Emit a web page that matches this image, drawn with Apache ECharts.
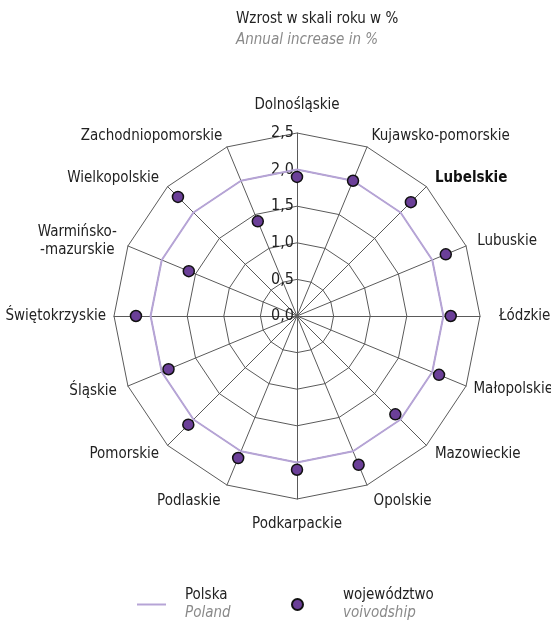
<!DOCTYPE html>
<html>
<head>
<meta charset="utf-8">
<script src="https://cdn.jsdelivr.net/npm/echarts@6/dist/echarts.min.js"></script>
<style>
  html, body { margin: 0; padding: 0; background: #fff; }
  #radar { width: 551px; height: 622px; }
</style>
</head>
<body>
<div id="radar"></div>
<script>
// voivodeships, clockwise from the top
const regions = [
    'Dolnośląskie', 'Kujawsko-pomorskie', 'Lubelskie', 'Lubuskie',
    'Łódzkie', 'Małopolskie', 'Mazowieckie', 'Opolskie',
    'Podkarpackie', 'Podlaskie', 'Pomorskie', 'Śląskie',
    'Świętokrzyskie', 'Warmińsko-mazurskie', 'Wielkopolskie', 'Zachodniopomorskie'
];
const regionValues = [1.9, 2.0, 2.2, 2.2, 2.1, 2.1, 1.9, 2.2, 2.1, 2.1, 2.1, 1.9, 2.2, 1.6, 2.3, 1.4];
const polandValues = [2.0, 2.0, 2.0, 2.0, 2.0, 2.0, 2.0, 2.0, 2.0, 2.0, 2.0, 2.0, 2.0, 2.0, 2.0, 2.0];
const scaleTicks = [0, 0.5, 1.0, 1.5, 2.0, 2.5];
const highlighted = 'Lubelskie';

const FONT = '"Liberation Sans Narrow", "DejaVu Sans Condensed", "Roboto", sans-serif';

// label distance tweaks (px from the outer ring), default 12
const nameGaps = {
    'Dolnośląskie': 20, 'Łódzkie': 19, 'Podkarpackie': 18,
    'Podlaskie': 17, 'Opolskie': 17, 'Świętokrzyskie': 8, 'Małopolskie': 8
};

// echarts lays the indicators out counter-clockwise, so flip the order
const order = [0].concat(regions.map((_, i) => i).slice(1).reverse());
const pick = arr => order.map(i => arr[i]);

const chart = echarts.init(document.getElementById('radar'));
chart.setOption({
    textStyle: { fontFamily: FONT },
    title: {
        text: 'Wzrost w skali roku w %',
        subtext: 'Annual increase in %',
        left: 231,
        top: 7,
        itemGap: 6,
        textStyle: { fontFamily: FONT, fontSize: 15, fontWeight: 'normal', color: '#222' },
        subtextStyle: { fontFamily: FONT, fontSize: 15, fontStyle: 'italic', color: '#8a8a8a' }
    },
    legend: [
        {
            data: [{ name: 'Polska', icon: 'path://M0,0L29,0L29,2L0,2Z' }],
            left: 132,
            top: 583,
            itemWidth: 29,
            itemHeight: 11,
            formatter: name => '{a|' + name + '}\n{b|Poland}',
            textStyle: {
                rich: {
                    a: { fontFamily: FONT, fontSize: 15, color: '#222', padding: [0, 0, 0, 14], lineHeight: 18 },
                    b: { fontFamily: FONT, fontSize: 15, color: '#8a8a8a', fontStyle: 'italic', padding: [0, 0, 0, 14], lineHeight: 18 }
                }
            }
        },
        {
            data: [{ name: 'województwo', icon: 'circle' }],
            left: 286,
            top: 583,
            itemWidth: 11,
            itemHeight: 11,
            formatter: name => '{a|' + name + '}\n{b|voivodship}',
            textStyle: {
                rich: {
                    a: { fontFamily: FONT, fontSize: 15, color: '#222', padding: [0, 0, 0, 35], lineHeight: 18 },
                    b: { fontFamily: FONT, fontSize: 15, color: '#8a8a8a', fontStyle: 'italic', padding: [0, 0, 0, 35], lineHeight: 18 }
                }
            }
        }
    ],
    radar: {
        center: [297, 316],
        radius: 183,
        startAngle: 90,
        shape: 'polygon',
        splitNumber: scaleTicks.length - 1,
        nameGap: 12,
        axisName: {
            color: '#222',
            fontFamily: FONT,
            fontSize: 15,
            formatter: value => {
                if (value === highlighted) return '{b|' + value + '}';
                if (value.indexOf('Warmińsko') === 0) {
                    const parts = value.split('-');
                    return '{c|' + parts[0] + '-}\n{c|-' + parts[1] + '}';
                }
                return value;
            },
            rich: {
                b: { fontFamily: FONT, fontSize: 15, fontWeight: 'bold', color: '#111' },
                c: { fontFamily: FONT, fontSize: 15, color: '#222', align: 'center', lineHeight: 18 }
            }
        },
        axisLine: { lineStyle: { color: '#5a5a5a', width: 1 } },
        splitLine: { lineStyle: { color: '#5a5a5a', width: 1 } },
        splitArea: { show: false },
        axisTick: { show: false },
        axisLabel: {
            show: false,
            margin: 3,
            fontFamily: FONT,
            fontSize: 16,
            color: '#222',
            formatter: v => v.toFixed(1).replace('.', ',')
        },
        indicator: pick(regions).map((name, i) => ({
            name: name,
            min: scaleTicks[0],
            max: scaleTicks[scaleTicks.length - 1],
            nameGap: nameGaps[name] || 12,
            axisLabel: { show: i === 0 }
        }))
    },
    series: [
        {
            name: 'Polska',
            type: 'radar',
            symbol: 'none',
            silent: true,
            z: 3,
            lineStyle: { color: '#b6a4d6', width: 2 },
            itemStyle: { color: '#b6a4d6' },
            data: [{ name: 'Polska', value: pick(polandValues) }]
        },
        {
            name: 'województwo',
            type: 'radar',
            symbol: 'circle',
            symbolSize: 11,
            silent: true,
            z: 4,
            lineStyle: { width: 0, opacity: 0 },
            itemStyle: { color: '#6b3f98', borderColor: '#111', borderWidth: 1.5 },
            data: [{ name: 'województwo', value: pick(regionValues) }]
        }
    ]
});
</script>
</body>
</html>
